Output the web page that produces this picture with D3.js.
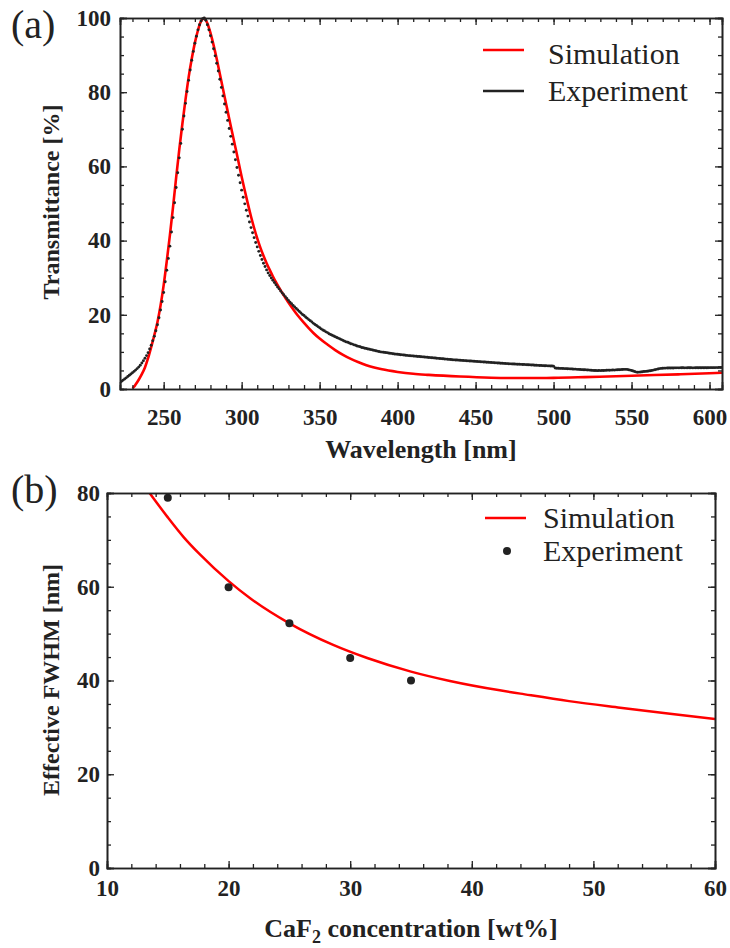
<!DOCTYPE html>
<html>
<head>
<meta charset="utf-8">
<script src="https://d3js.org/d3.v7.min.js"></script>
<style>
  body { margin: 0; background: #fff; }
  svg { display: block; font-family: "Liberation Serif", "Times New Roman", serif; }
  .axis path, .axis line { stroke: #222; }
  .axis path { stroke-width: 1.6; }
  .axis line { stroke-width: 1.3; }
  .axis text { font-size: 23px; font-weight: bold; fill: #222; font-family: "Liberation Serif", serif; }
  .title { font-size: 24px; font-weight: bold; fill: #222; }
  .title.wide { font-size: 26px; }
  .legend { font-size: 30px; fill: #222; }
  .tag { font-size: 40px; fill: #222; }
</style>
</head>
<body>
<svg width="730" height="948"></svg>
<script>
// ---- panel (a): transmittance spectra ----
// experiment, sampled every 1 nm starting at 222 nm
const expStart = 222;
const expT = [
  1.8, 2.1, 2.4, 2.7, 3.0, 3.35, 3.7, 4.05,
  4.4, 4.75, 5.1, 5.5, 5.9, 6.4, 7.0, 7.6, 8.3, 9.0,
  9.8, 10.8, 11.8, 13.0, 14.2, 15.7, 17.3, 19.2, 21.3, 23.6,
  26.0, 28.9, 32.0, 35.2, 38.5, 42.3, 46.2, 50.2, 54.3, 58.3,
  62.3, 66.2, 70.0, 73.6, 77.0, 80.2, 83.2, 86.0, 88.6, 91.0,
  93.2, 95.1, 96.8, 98.2, 99.2, 99.8, 100, 99.4, 98.2, 96.8,
  95.2, 93.5, 91.7, 89.8, 87.8, 85.7, 83.5, 81.3, 79.0, 76.8,
  74.6, 72.4, 70.2, 68.1, 66.0, 63.9, 61.8, 59.7, 57.6, 55.6,
  53.6, 51.7, 49.9, 48.2, 46.6, 45.0, 43.5, 42.1, 40.8, 39.5,
  38.3, 37.1, 36.0, 34.9, 33.9, 33.0, 32.1, 31.3, 30.6, 29.9,
  29.3, 28.7, 28.1, 27.5, 27.0, 26.4, 25.9, 25.4, 24.9, 24.4,
  23.9, 23.4, 23.0, 22.5, 22.1, 21.7, 21.3, 20.9, 20.5, 20.1,
  19.8, 19.4, 19.1, 18.7, 18.4, 18.1, 17.7, 17.4, 17.1, 16.8,
  16.5, 16.2, 15.9, 15.7, 15.4, 15.2, 14.9, 14.7, 14.5, 14.3,
  14.1, 13.9, 13.7, 13.5, 13.3, 13.1, 12.9, 12.7, 12.6, 12.4,
  12.2, 12.1, 11.9, 11.8, 11.6, 11.5, 11.4, 11.2, 11.1, 11.0,
  10.9, 10.8, 10.7, 10.6, 10.5, 10.4, 10.3, 10.2, 10.1, 10.0,
  9.95, 9.9, 9.85, 9.8, 9.7, 9.65, 9.6, 9.5, 9.45, 9.4,
  9.35, 9.3, 9.25, 9.2, 9.15, 9.1, 9.05, 9.0, 8.97, 8.93,
  8.9, 8.86, 8.82, 8.78, 8.74, 8.7, 8.66, 8.62, 8.58, 8.54,
  8.5, 8.46, 8.42, 8.38, 8.34, 8.3, 8.26, 8.22, 8.18, 8.14,
  8.1, 8.06, 8.02, 7.98, 7.94, 7.9, 7.86, 7.83, 7.8, 7.77,
  7.74, 7.71, 7.68, 7.65, 7.62, 7.59, 7.56, 7.53, 7.5, 7.47,
  7.44, 7.41, 7.38, 7.35, 7.32, 7.29, 7.26, 7.23, 7.2, 7.17,
  7.14, 7.11, 7.08, 7.05, 7.02, 6.99, 6.96, 6.93, 6.9, 6.87,
  6.84, 6.81, 6.78, 6.76, 6.74, 6.72, 6.7, 6.68, 6.66, 6.64,
  6.62, 6.6, 6.58, 6.55, 6.52, 6.5, 6.47, 6.45, 6.42, 6.4,
  6.38, 6.35, 6.33, 6.3, 6.28, 6.26, 6.24, 6.22, 6.2, 6.18,
  6.15, 5.65, 5.6, 5.58, 5.55, 5.55, 5.52, 5.5, 5.48, 5.45,
  5.43, 5.42, 5.38, 5.35, 5.36, 5.3, 5.28, 5.26, 5.22, 5.2,
  5.18, 5.15, 5.12, 5.1, 5.05, 5.02, 5.0, 4.98, 4.95, 4.97,
  4.96, 5.0, 4.98, 5.02, 5.05, 5.08, 5.05, 5.1, 5.12, 5.1,
  5.15, 5.18, 5.2, 5.22, 5.25, 5.28, 5.3, 5.28, 5.2, 5.1,
  5.0, 4.85, 4.7, 4.55, 4.5, 4.55, 4.6, 4.65, 4.7, 4.75,
  4.8, 4.85, 4.9, 5.0, 5.1, 5.2, 5.3, 5.4, 5.5, 5.55,
  5.6, 5.62, 5.64, 5.65, 5.66, 5.67, 5.68, 5.68, 5.7, 5.7,
  5.7, 5.7, 5.72, 5.71, 5.7, 5.7, 5.72, 5.73, 5.72, 5.7,
  5.7, 5.71, 5.72, 5.72, 5.73, 5.72, 5.72, 5.73, 5.74, 5.74,
  5.75, 5.75, 5.76, 5.76, 5.77, 5.77, 5.78, 5.78, 5.8
];
const expWl = d3.range(expStart, expStart + expT.length);

// simulation
const simWl = [230, 231, 232, 234, 236, 238, 240, 242, 244, 246, 248, 250, 252, 254, 256, 258,
  260, 262, 264, 266, 268, 270, 272, 274, 276, 278, 280, 282, 284, 286, 288, 290, 292, 294, 296,
  298, 300, 302, 304, 306, 308, 310, 312, 314, 316, 318, 320, 322, 324, 326, 328, 330, 333, 336,
  340, 343, 346, 350, 355, 360, 365, 370, 375, 380, 390, 400, 410, 420, 440, 460, 480, 500, 520,
  540, 560, 580, 600, 608];
const simT = [0.2, 0.6, 1.2, 2.5, 4.0, 5.8, 8.3, 11.3, 14.5, 18.0, 22.5, 28.0, 34.5, 41.5, 49.0, 57.0,
  64.5, 71.5, 78.0, 84.0, 89.0, 93.3, 96.7, 99.2, 99.9, 98.6, 96.0, 92.7, 89.0, 85.0, 80.9, 76.9, 72.9, 69.0, 65.1,
  61.2, 57.2, 53.5, 49.9, 46.5, 43.4, 40.6, 38.1, 35.9, 33.9, 32.1, 30.4, 28.8, 27.3, 25.9, 24.6, 23.3, 21.5, 19.8,
  17.8, 16.4, 15.1, 13.6, 12.0, 10.5, 9.2, 8.1, 7.2, 6.4, 5.3, 4.6, 4.1, 3.8, 3.35, 3.05, 2.95, 3.0, 3.2,
  3.45, 3.7, 3.95, 4.25, 4.4];

const wlTicks = [250, 300, 350, 400, 450, 500, 550, 600];
const tTicks = [0, 20, 40, 60, 80, 100];

// ---- panel (b): effective FWHM ----
const expConc = [15, 20, 25, 30, 35];
const expFwhm = [79, 59.9, 52.2, 44.8, 40];
const simConc = [13.5, 15, 16.3, 17.6, 20, 21.8, 25, 28.6, 31.4, 35, 38.2, 42.3, 44, 48, 52.2, 56.3, 60];
const simFwhm = [80, 74.8, 70.6, 67.0, 61.2, 57.5, 52.2, 47.6, 44.8, 41.9, 39.9, 37.9, 37.2, 35.6, 34.2, 32.9, 31.8];
const concTicks = [10, 20, 30, 40, 50, 60];
const fwhmTicks = [0, 20, 40, 60, 80];

const svg = d3.select("svg");
const RED = "#ff0000", INK = "#222";

function frame(g, x, y, xMaj, xMin, yMaj, yMin, xPad, yPad) {
    const [x0, x1] = x.range(), [y0, y1] = y.range();
    // minor ticks on all sides, inward
    g.append("g").attr("class", "axis").attr("transform", `translate(0,${y0})`)
        .call(d3.axisBottom(x).tickValues(xMin).tickSize(-4).tickFormat(""));
    g.append("g").attr("class", "axis").attr("transform", `translate(0,${y1})`)
        .call(d3.axisTop(x).tickValues(xMin).tickSize(-4).tickFormat(""));
    g.append("g").attr("class", "axis").attr("transform", `translate(${x0},0)`)
        .call(d3.axisLeft(y).tickValues(yMin).tickSize(-4).tickFormat(""));
    g.append("g").attr("class", "axis").attr("transform", `translate(${x1},0)`)
        .call(d3.axisRight(y).tickValues(yMin).tickSize(-4).tickFormat(""));
    // major ticks with labels
    g.append("g").attr("class", "axis").attr("transform", `translate(0,${y0})`)
        .call(d3.axisBottom(x).tickValues(xMaj).tickSize(-7).tickPadding(xPad).tickFormat(d3.format("d")));
    g.append("g").attr("class", "axis").attr("transform", `translate(0,${y1})`)
        .call(d3.axisTop(x).tickValues(xMaj).tickSize(-7).tickFormat(""));
    g.append("g").attr("class", "axis").attr("transform", `translate(${x0},0)`)
        .call(d3.axisLeft(y).tickValues(yMaj).tickSize(-7).tickPadding(yPad).tickFormat(d3.format("d")));
    g.append("g").attr("class", "axis").attr("transform", `translate(${x1},0)`)
        .call(d3.axisRight(y).tickValues(yMaj).tickSize(-7).tickFormat(""));
    g.selectAll(".axis").attr("font-family", null).attr("font-size", null);
}

// ---------- panel (a) ----------
const xA = d3.scaleLinear().domain([222, 608]).range([120, 722]);
const yA = d3.scaleLinear().domain([0, 100]).range([389, 18]);
const gA = svg.append("g");

gA.append("clipPath").attr("id", "clipA").append("rect")
    .attr("x", 120).attr("y", 16).attr("width", 602).attr("height", 374);

gA.append("path").attr("clip-path", "url(#clipA)")
    .attr("d", d3.line().x((d) => xA(d)).y((d, i) => yA(simT[i])).curve(d3.curveMonotoneX)(simWl))
    .attr("fill", "none").attr("stroke", RED).attr("stroke-width", 2.6);

// experiment dots sit on top of the simulation line
gA.append("g").attr("clip-path", "url(#clipA)")
    .selectAll("circle").data(expWl).join("circle")
    .attr("cx", (d) => xA(d)).attr("cy", (d, i) => yA(expT[i]))
    .attr("r", 1.45).attr("fill", INK);

frame(gA, xA, yA, wlTicks, d3.range(230, 609, 10), tTicks, d3.range(0, 101, 5), 20, 9);

gA.append("text").attr("class", "title wide").attr("text-anchor", "middle")
    .attr("x", 421).attr("y", 458).text("Wavelength [nm]");
gA.append("text").attr("class", "title").attr("text-anchor", "middle")
    .attr("transform", "translate(59,202) rotate(-90)").text("Transmittance [%]");
gA.append("text").attr("class", "tag").attr("x", 11).attr("y", 38).text("(a)");

gA.append("line").attr("x1", 483).attr("x2", 524).attr("y1", 50).attr("y2", 50)
    .attr("stroke", RED).attr("stroke-width", 2.6);
gA.append("text").attr("class", "legend").attr("x", 548).attr("y", 64).text("Simulation");
gA.append("line").attr("x1", 483).attr("x2", 524).attr("y1", 91).attr("y2", 91)
    .attr("stroke", INK).attr("stroke-width", 2.6);
gA.append("text").attr("class", "legend").attr("x", 548).attr("y", 101).text("Experiment");

// ---------- panel (b) ----------
const xB = d3.scaleLinear().domain([10, 60]).range([107, 715]);
const yB = d3.scaleLinear().domain([0, 80]).range([868, 493]);
const gB = svg.append("g");

gB.append("clipPath").attr("id", "clipB").append("rect")
    .attr("x", 107).attr("y", 493).attr("width", 608).attr("height", 375);

gB.append("path").attr("clip-path", "url(#clipB)")
    .attr("d", d3.line().x((d) => xB(d)).y((d, i) => yB(simFwhm[i])).curve(d3.curveMonotoneX)(simConc))
    .attr("fill", "none").attr("stroke", RED).attr("stroke-width", 2.5);

gB.append("g").selectAll("circle").data(expConc).join("circle")
    .attr("cx", (d) => xB(d)).attr("cy", (d, i) => yB(expFwhm[i]))
    .attr("r", 4).attr("fill", INK);

frame(gB, xB, yB, concTicks, d3.range(12, 60, 2), fwhmTicks, d3.range(0, 81, 5), 12, 7);

const xt = gB.append("text").attr("class", "title wide").attr("text-anchor", "middle")
    .attr("x", 411).attr("y", 937);
xt.append("tspan").text("CaF");
xt.append("tspan").attr("dy", 6).attr("font-size", 18).text("2");
xt.append("tspan").attr("dy", -6).text(" concentration [wt%]");
gB.append("text").attr("class", "title").attr("text-anchor", "middle")
    .attr("transform", "translate(59,680) rotate(-90)").text("Effective FWHM [nm]");
gB.append("text").attr("class", "tag").attr("x", 11).attr("y", 503).text("(b)");

gB.append("line").attr("x1", 485).attr("x2", 526).attr("y1", 518).attr("y2", 518)
    .attr("stroke", RED).attr("stroke-width", 2.6);
gB.append("text").attr("class", "legend").attr("x", 543).attr("y", 528).text("Simulation");
gB.append("circle").attr("cx", 507).attr("cy", 551).attr("r", 4).attr("fill", INK);
gB.append("text").attr("class", "legend").attr("x", 543).attr("y", 561).text("Experiment");
</script>
</body>
</html>
